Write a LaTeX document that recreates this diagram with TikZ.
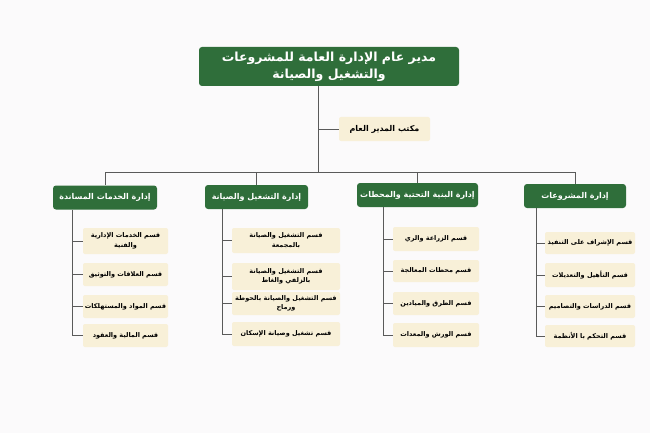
\documentclass[tikz,border=0pt]{standalone}
\usepackage{fontspec}
\TeXXeTstate=1
\newfontfamily\arabicfont[Script=Arabic]{DejaVu Sans}
\definecolor{hdgreen}{HTML}{2F6E3A}
\definecolor{cream}{HTML}{F8F0D8}
\definecolor{linegray}{HTML}{5A5A5A}
\definecolor{bgcol}{HTML}{FBFAFB}
\newcommand{\ar}[1]{\beginR #1\endR}
\tikzset{
  topbox/.style={draw=none, fill=hdgreen, rounded corners=3pt, text=white, font=\arabicfont\bfseries\fontsize{12.5}{17}\selectfont, align=center, inner sep=0pt},
  deptbox/.style={draw=none, fill=hdgreen, rounded corners=3pt, text=white, font=\arabicfont\bfseries\fontsize{8}{10}\selectfont, align=center, inner sep=0pt, minimum height=24pt},
  secbox/.style={draw=none, fill=cream, rounded corners=2pt, text=black, font=\arabicfont\bfseries\fontsize{8}{10}\selectfont, align=center, inner sep=0pt, minimum width=91pt, minimum height=24pt},
  subbox/.style={draw=none, fill=cream, rounded corners=2pt, text=black, font=\arabicfont\bfseries\fontsize{6.5}{9.5}\selectfont, align=center, inner sep=0pt},
  conn/.style={draw=linegray, line width=0.9pt}
}
\begin{document}
\begin{tikzpicture}[x=1pt,y=-1pt]
\fill[bgcol] (0,0) rectangle (650,433);
\useasboundingbox (0,0) rectangle (650,433);

\node[topbox, minimum width=260pt, minimum height=39pt] (top) at (329,66.5) {\ar{مدير عام الإدارة العامة للمشروعات}\\\ar{والتشغيل والصيانة}};
\node[secbox] (sec) at (384.5,129) {\ar{مكتب المدير العام}};

\node[deptbox, minimum width=104pt] (d1) at (105,197.5) {\ar{إدارة الخدمات المساندة}};
\node[deptbox, minimum width=103pt] (d2) at (256.5,197) {\ar{إدارة التشغيل والصيانة}};
\node[deptbox, minimum width=121pt] (d3) at (417.5,195) {\ar{إدارة البنية التحتية والمحطات}};
\node[deptbox, minimum width=102pt] (d4) at (575,196) {\ar{إدارة المشروعات}};

% column 1
\node[subbox, minimum width=85pt, minimum height=26pt] (a1) at (125.5,241) {\ar{قسم الخدمات الإدارية}\\\ar{والفنية}};
\node[subbox, minimum width=85pt, minimum height=23pt] (a2) at (125.5,274.5) {\ar{قسم العلاقات والتوثيق}};
\node[subbox, minimum width=85pt, minimum height=23pt] (a3) at (125.5,306.5) {\ar{قسم المواد والمستهلكات}};
\node[subbox, minimum width=85pt, minimum height=23pt] (a4) at (125.5,335.5) {\ar{قسم المالية والعقود}};
% column 2
\node[subbox, minimum width=108pt, minimum height=25pt] (b1) at (286,240.5) {\ar{قسم التشغيل والصيانة}\\\ar{بالمجمعة}};
\node[subbox, minimum width=108pt, minimum height=27pt] (b2) at (286,276.5) {\ar{قسم التشغيل والصيانة}\\\ar{بالزلفي والغاط}};
\node[subbox, minimum width=108pt, minimum height=23pt] (b3) at (286,303.5) {\ar{قسم التشغيل والصيانة بالحوطة}\\\ar{ورماح}};
\node[subbox, minimum width=108pt, minimum height=24pt] (b4) at (286,334) {\ar{قسم تشغيل وصيانة الإسكان}};
% column 3
\node[subbox, minimum width=86pt, minimum height=24pt] (c1) at (436,239) {\ar{قسم الزراعة والري}};
\node[subbox, minimum width=86pt, minimum height=22pt] (c2) at (436,271) {\ar{قسم محطات المعالجة}};
\node[subbox, minimum width=86pt, minimum height=23pt] (c3) at (436,303.5) {\ar{قسم الطرق والميادين}};
\node[subbox, minimum width=86pt, minimum height=24pt] (c4) at (436,335) {\ar{قسم الورش والمعدات}};
% column 4
\node[subbox, minimum width=90pt, minimum height=22pt] (e1) at (590,243) {\ar{قسم الإشراف على التنفيذ}};
\node[subbox, minimum width=90pt, minimum height=24pt] (e2) at (590,275) {\ar{قسم التأهيل والتعديلات}};
\node[subbox, minimum width=90pt, minimum height=23pt] (e3) at (590,306.5) {\ar{قسم الدراسات والتصاميم}};
\node[subbox, minimum width=90pt, minimum height=22pt] (e4) at (590,336) {\ar{قسم التحكم با الأنظمة}};

% connectors
\coordinate (tv) at (318,86);
\coordinate (hb) at (318,172);
\coordinate (hl) at (105,172);
\coordinate (hr) at (575,172);
\draw[conn] (tv) -- (hb);
\draw[conn] (sec.west -| tv) -- (sec.west);
\draw[conn] (hl) -- (hr);
\draw[conn] (hl) -- (d1.north);
\draw[conn] (d2.north |- hl) -- (d2.north);
\draw[conn] (d3.north |- hl) -- (d3.north);
\draw[conn] (hr) -- (d4.north);

\coordinate (s1) at (72,0);
\coordinate (s2) at (222,0);
\coordinate (s3) at (383,0);
\coordinate (s4) at (536,0);
\draw[conn] (d1.south -| s1) -- (a4.west -| s1) -- (a4.west);
\foreach \n in {a1,a2,a3} \draw[conn] (\n.west -| s1) -- (\n.west);
\draw[conn] (d2.south -| s2) -- (b4.west -| s2) -- (b4.west);
\foreach \n in {b1,b2,b3} \draw[conn] (\n.west -| s2) -- (\n.west);
\draw[conn] (d3.south -| s3) -- (c4.west -| s3) -- (c4.west);
\foreach \n in {c1,c2,c3} \draw[conn] (\n.west -| s3) -- (\n.west);
\draw[conn] (d4.south -| s4) -- (e4.west -| s4) -- (e4.west);
\foreach \n in {e1,e2,e3} \draw[conn] (\n.west -| s4) -- (\n.west);
\end{tikzpicture}
\end{document}
